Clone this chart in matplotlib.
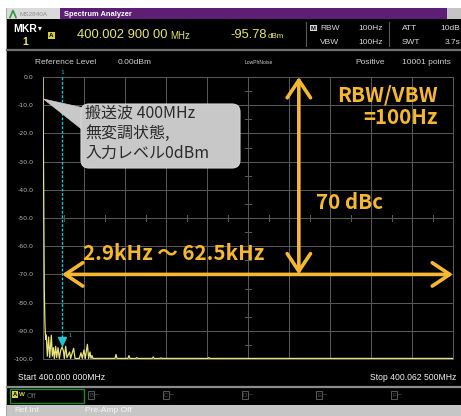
import matplotlib
matplotlib.use("Agg")
import matplotlib.pyplot as plt
import numpy as np
from matplotlib.patches import Rectangle, FancyBboxPatch, Polygon

# trace: offset from the 400.000 MHz start (kHz) and level (dBm)
freq_khz = [0.00, 0.10, 0.20, 0.30, 0.40, 0.50, 0.66, 0.86, 1.02, 1.27, 1.42, 1.58,
            1.73, 1.93, 2.08, 2.29, 2.49, 2.69, 2.90, 3.10, 3.25, 3.46, 3.66, 4.06,
            4.21, 4.67, 4.88, 5.54, 5.79, 5.99, 6.25, 6.45, 6.76, 6.96, 7.16, 7.32,
            7.47, 7.62, 10.98, 11.13, 11.28, 12.95, 13.10, 13.25, 14.15, 14.30, 14.45,
            16.65, 16.80, 16.95, 17.85, 18.00, 18.15, 25.15, 25.30, 25.45, 62.50]
level_dbm = [-0.3, -40.0, -76.0, -88.0, -93.0, -91.5, -99.0, -92.2, -99.5, -91.6, -99.0, -96.0,
             -99.8, -95.5, -99.5, -96.0, -99.8, -97.0, -95.78, -97.0, -99.8, -95.5, -99.5, -97.5,
             -99.8, -96.2, -99.8, -99.8, -97.8, -99.8, -96.8, -99.8, -94.8, -99.8, -97.5, -99.8,
             -98.8, -99.8, -99.8, -98.4, -99.8, -99.8, -98.8, -99.8, -99.8, -99.5, -99.8,
             -99.8, -99.3, -99.8, -99.8, -99.6, -99.8, -99.8, -99.5, -99.8, -99.8]

span_khz = 62.5
marker_khz = 2.90
marker_dbm = -95.78
y_ticks = list(range(-100, 1, 10))

ORANGE = '#f5b830'
CYAN = '#1cc8cf'
TRACE = '#e8e47c'
GRID = '#575757'
JP = ['Noto Sans CJK JP', 'DejaVu Sans']
SANS = ['Liberation Sans', 'DejaVu Sans']

W, H = 461, 416
fig = plt.figure(figsize=(W / 100, H / 100), dpi=100)

# screen chrome, drawn in pixel units
bg = fig.add_axes([0, 0, 1, 1])
bg.set_xlim(0, W)
bg.set_ylim(H, 0)
bg.axis('off')


def box(x0, y0, x1, y1, color, **kw):
    bg.add_patch(Rectangle((x0, y0), x1 - x0, y1 - y0, facecolor=color,
                           edgecolor=kw.pop('edgecolor', 'none'), **kw))


def label(x, y, s, size=6, color='#e0e0e0', **kw):
    kw.setdefault('va', 'center')
    kw.setdefault('family', SANS)
    bg.text(x, y, s, fontsize=size, color=color, **kw)


box(0, 0, W, H, 'white')
box(7, 8, W, H, 'black')
box(6, 8, 7, H, '#a8a8a8')

# title bar
box(7, 8, 60, 19, '#dadada')
box(60, 8, 447, 19, '#5c1f74')
box(447, 8, W, 19, '#c4c4c4')
bg.plot([10, 13, 16], [17.5, 10.5, 17.5], color='#2a9a3a', lw=1.2)
label(19, 14, 'MS2840A', 4.6, '#8c8c8c')
label(64, 14, 'Spectrum Analyzer', 5.4, 'white', weight='bold')

# marker readout row
label(13, 29, 'MKR', 7.5, 'white', weight='bold')
label(38, 28, '\u25be', 5.5, 'white', family=['DejaVu Sans'])
box(48, 32, 55, 39, '#d8d040')
label(51.5, 35.6, 'A', 4.5, 'black', ha='center', weight='bold')
label(25, 42, '1', 7.5, '#e8e46a', ha='center', weight='bold')
label(77, 35, '400.002 900 00', 9.3, '#e8e46a')
label(170, 36, 'MHz', 7, '#e8e46a')
label(230, 35, '-95.78', 9.3, '#e8e46a')
label(268, 36, 'dBm', 5.8, '#e8e46a')
box(310, 25, 317, 31, '#d8d8d8')
label(313.5, 28.2, 'M', 4.2, 'black', ha='center', weight='bold')
label(320, 28, 'RBW', 6, '#d8d8d8')
label(320, 42, 'VBW', 6, '#d8d8d8')
label(358, 28, '100Hz', 6, '#d8d8d8')
label(358, 42, '100Hz', 6, '#d8d8d8')
label(402, 28, 'ATT', 6, '#d8d8d8')
label(402, 42, 'SWT', 6, '#d8d8d8')
label(440, 28, '10dB', 6, '#d8d8d8')
label(445, 42, '3.7s', 6, '#d8d8d8')
for sx in (306, 389):
    bg.plot([sx, sx], [22, 46], color='#5a5a5a', lw=0.8)
bg.plot([7, W], [49.5, 49.5], color='#707070', lw=1.6)

# settings row
label(35, 62, 'Reference Level', 6, '#cfcfcf')
label(118, 62, '0.00dBm', 6, '#cfcfcf')
label(245, 62.5, 'LowPhNoise', 3.6, '#cfcfcf')
label(355, 62, 'Positive', 6, '#cfcfcf')
label(402, 62, '10001 points', 6, '#cfcfcf')

# span labels and trace selector row
label(18, 377, 'Start 400.000 000MHz', 6.2, '#f0f0f0')
label(456, 377, 'Stop 400.062 500MHz', 6.2, '#f0f0f0', ha='right')
bg.plot([7, W], [387, 387], color='#8c8c8c', lw=1.6)
box(10, 389, 84, 403, 'none', edgecolor='#1f8a2a', lw=1.0)
box(12, 391, 18, 398, '#d8d040')
label(15, 394.8, 'A', 4.2, 'black', ha='center', weight='bold')
label(18.5, 394, 'W', 4.5, '#d8d040', weight='bold')
label(27, 396, 'Off', 5.2, '#606060')
for tx, tl in zip((88, 163, 242, 316, 391), 'BCDEF'):
    box(tx, 391, tx + 6, 399, 'none', edgecolor='#555555', lw=0.8)
    label(tx + 3, 395.2, tl, 4.2, '#555555', ha='center')
    label(tx + 7, 395, '\u2013', 5, '#555555')
box(7, 405, W, H, '#c6c6c6')
label(14, 410.5, 'Ref.Int', 6, '#f6f6f6')
label(85, 410.5, 'Pre-Amp Off', 6, '#f6f6f6')

# spectrum display
ax = fig.add_axes([43 / W, 1 - 359 / H, 410 / W, 282 / H])
ax.set_facecolor('black')
ax.set_xlim(0, span_khz)
ax.set_ylim(-100, 0)
ax.set_xticks(np.linspace(0, span_khz, 11))
ax.set_yticks(y_ticks)
ax.set_yticklabels([f'{v:.1f}' for v in y_ticks])
ax.tick_params(axis='x', length=0, labelbottom=False)
ax.tick_params(axis='y', length=0, pad=7, labelsize=4.5, labelcolor='#b8b8b8')
ax.grid(color=GRID, lw=0.75)
for sp in ax.spines.values():
    sp.set_color(GRID)
    sp.set_linewidth(0.75)

# minor ticks on the centre cross
mid_x = span_khz / 2
for fx in np.arange(span_khz / 20, span_khz, span_khz / 10):
    ax.plot([fx, fx], [-50.9, -49.1], color=GRID, lw=0.75)
for dy in np.arange(-95, 0, 10):
    ax.plot([mid_x - 0.4, mid_x + 0.4], [dy, dy], color=GRID, lw=0.75)

ax.plot(freq_khz, level_dbm, color=TRACE, lw=0.9, zorder=3)

# marker 1
ax.plot([marker_khz, marker_khz], [0, marker_dbm], color=CYAN, lw=1.0,
        dashes=(2, 1.2), zorder=4)
ax.plot(marker_khz, marker_dbm + 2.2, marker='v', ms=6, color=CYAN, zorder=5)
ax.text(marker_khz + 1.0, marker_dbm + 3.5, '1', fontsize=3.5, color=CYAN, zorder=5)
ax.text(marker_khz, 0.8, '1', fontsize=4.5, color=CYAN, ha='center', va='bottom',
        clip_on=False)

# annotations
arrow = dict(arrowstyle='<->,head_length=0.9,head_width=0.6', color=ORANGE, lw=2.6,
             shrinkA=0, shrinkB=0, mutation_scale=14)
ax.annotate('', xy=(39.0, 0), xytext=(39.0, -70), arrowprops=arrow, zorder=6)
ax.annotate('', xy=(marker_khz, -70), xytext=(span_khz, -70), arrowprops=arrow, zorder=6)
note = dict(fontsize=14.8, weight='bold', color=ORANGE, family=JP, va='center', zorder=7)
ax.text(6.1, -62.6, '2.9kHz \uff5e 62.5kHz', **note)
ax.text(41.6, -44.5, '70 dBc', **note)
ax.text(60.2, -6.4, 'RBW/VBW', ha='right', **note)
ax.text(60.1, -14.2, '=100Hz', ha='right', **note)

# callout for the carrier
ov = fig.add_axes([0, 0, 1, 1])
ov.set_xlim(0, W)
ov.set_ylim(H, 0)
ov.axis('off')
ov.patch.set_alpha(0)
ov.add_patch(Polygon([(43.5, 99), (84, 108), (84, 131)], closed=True,
                     facecolor='#c8c8c8', edgecolor='#c8c8c8', lw=0.5))
ov.add_patch(FancyBboxPatch((81, 104), 159, 64, boxstyle='round,pad=0,rounding_size=8',
                            facecolor='#c8c8c8', edgecolor='#d6d6d6', lw=0.8))
for i, s in enumerate(['搬送波 400MHz', '無変調状態,', '入力レベル0dBm']):
    ov.text(85, 113 + 20 * i, s, fontsize=11.5, color='#2b2b2b', family=JP, va='center')

fig.savefig('out.png', dpi=100)
